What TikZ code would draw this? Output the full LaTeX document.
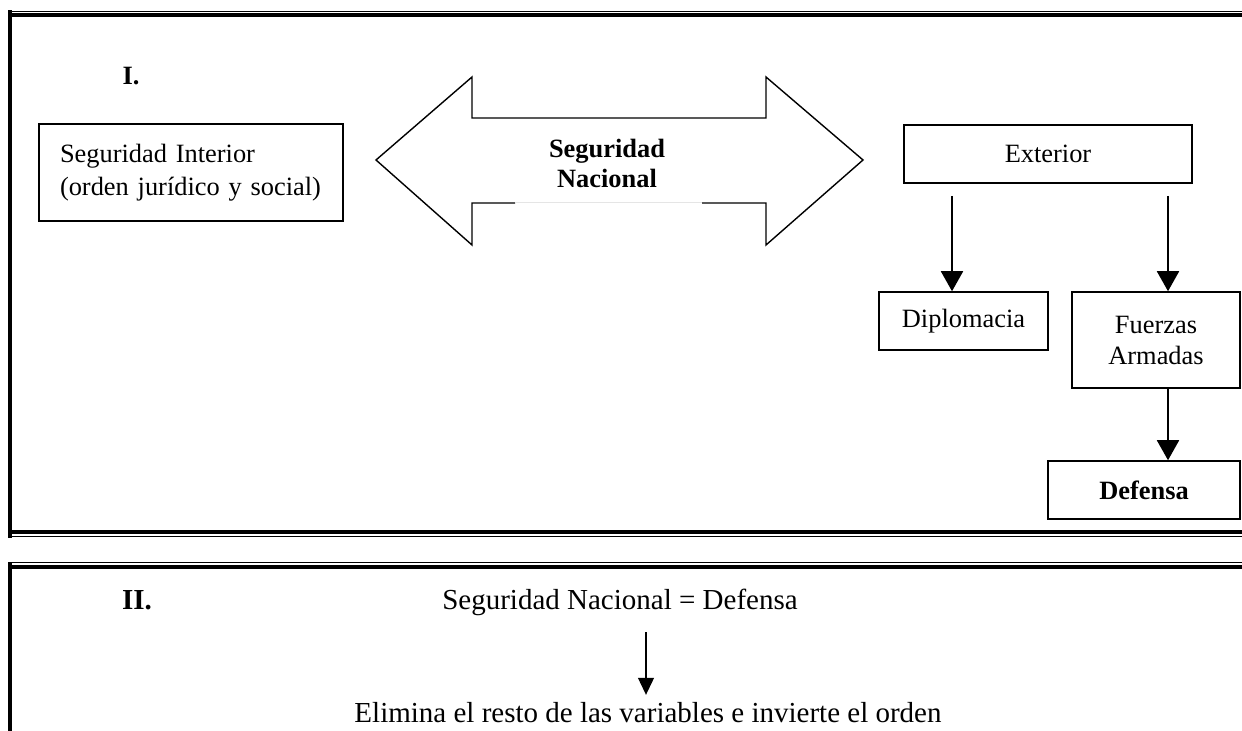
\documentclass[tikz,border=0pt]{standalone}
\usepackage{fontspec}
\setmainfont{Liberation Serif}
\usetikzlibrary{arrows.meta,positioning}
\tikzset{
  box/.style={draw, line width=0.75pt, inner sep=2pt, align=center},
  down/.style={line width=0.9pt, -{Triangle[width=11pt,length=10pt]}},
  downsmall/.style={line width=0.55pt, -{Triangle[width=8pt,length=8.5pt]}},
  thickrule/.style={line width=2pt},
  thinrule/.style={line width=0.5pt},
  boldtext/.style={font=\fontsize{13.2}{16}\selectfont\bfseries},
  bigtext/.style={font=\fontsize{14.5}{17}\selectfont},
  bigbold/.style={font=\fontsize{14.5}{17}\selectfont\bfseries},
}
\begin{document}
\begin{tikzpicture}[x=0.5pt, y=-0.5pt, font=\fontsize{13.2}{16}\selectfont]
    \useasboundingbox (0,0) rectangle (1242,731);
    \clip (0,0) rectangle (1242,731);
    % frames
    \draw[thinrule] (8,11.5) -- (1260,11.5);
    \draw[thickrule] (12,15) -- (1260,15);
    \draw[thickrule] (10,10.5) -- (10,538);
    \draw[thickrule] (8,532) -- (1260,532);
    \draw[thinrule] (8,536.5) -- (1260,536.5);
    \draw[thinrule] (8,563) -- (1260,563);
    \draw[thickrule] (12,567) -- (1260,567);
    \draw[thickrule] (10,562.5) -- (10,740);
    % part I
    \node[boldtext, anchor=base] (one) at (131,85) {I.};
    \node[box, align=left, text width=131pt, inner xsep=10.5pt, minimum height=48.5pt] (int) at (191,172.5)
      {Seguridad Interior\\[0.5pt](orden jurídico y social)};
    \draw[line width=0.7pt, line join=miter]
      (702,203) -- (766,203) -- (766,245) -- (863,160) -- (766,77) -- (766,118)
      -- (472,118) -- (472,77) -- (376,160) -- (472,245) -- (472,203) -- (515,203);
    \draw[gray!20, line width=0.5pt] (515,203) -- (702,203);
    \node[boldtext, align=center, inner sep=0pt] (sn) at (607,163) {Seguridad\\[-1pt]Nacional};
    \node[box, minimum width=144pt, minimum height=29pt] (ext) at (1048,154) {Exterior};
    \node[box, minimum width=84.5pt, minimum height=29pt] (dip) at (963.5,321) {Diplomacia};
    \node[box, minimum width=84pt, minimum height=48pt] (fa) at (1156,340) {Fuerzas\\[-0.5pt]Armadas};
    \node[box, boldtext, minimum width=96pt, minimum height=29pt] (def) at (1144,490) {Defensa};
    \coordinate (e1) at (952,196);
    \coordinate (e2) at (1168,196);
    \draw[down] (e1) -- (e1 |- dip.north);
    \draw[down] (e2) -- (e2 |- fa.north);
    \draw[down] (fa.south -| e2) -- (e2 |- def.north);
    % part II
    \node[bigbold, anchor=base] (two) at (137,610) {II.};
    \node[bigtext, anchor=base] (eq) at (620,610) {Seguridad Nacional = Defensa};
    \node[bigtext, anchor=base] (elim) at (648,722) {Elimina el resto de las variables e invierte el orden};
    \coordinate (a1) at (646,632);
    \draw[downsmall] (a1) -- (a1 |- elim.north);
\end{tikzpicture}
\end{document}
